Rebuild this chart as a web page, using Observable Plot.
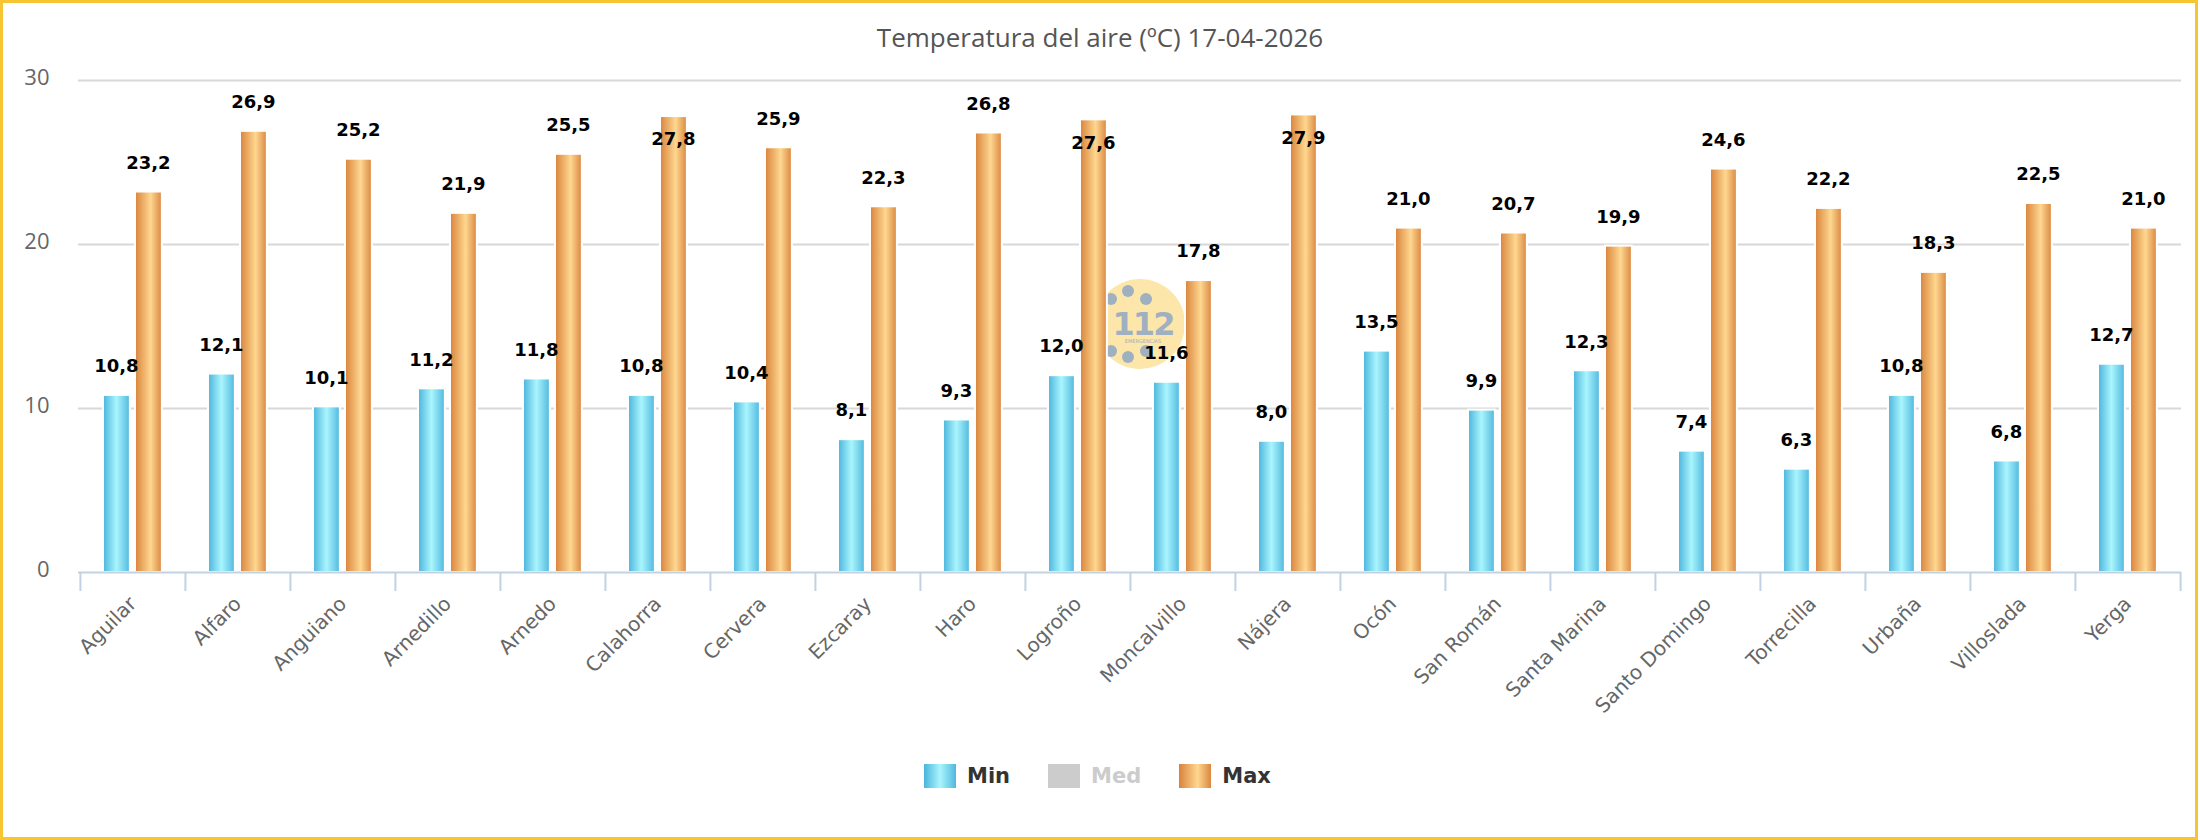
<!DOCTYPE html>
<html>
<head>
<meta charset="utf-8">
<script src="https://cdn.jsdelivr.net/npm/d3@7"></script>
<script src="https://cdn.jsdelivr.net/npm/@observablehq/plot@0.6"></script>
<style>
  html, body { margin: 0; padding: 0; background: #fff; }
  #page { position: relative; width: 2200px; height: 840px; overflow: hidden; background: #fff; }
  #frame { position: absolute; left: 0; top: 0; width: 2198px; height: 840px; box-sizing: border-box;
           border: 3px solid #f7c531; z-index: 5; pointer-events: none; }
  #title { position: absolute; left: 0; top: 24px; width: 2200px; text-align: center;
           font-family: "Open Sans", sans-serif; font-size: 26px; line-height: 26px; color: #555; z-index: 2; }
  #mark { position: absolute; left: 1090px; top: 274px; width: 100px; height: 100px; z-index: 0; }
  #chart { position: absolute; left: 0; top: 0; z-index: 1; }
  #legend { position: absolute; left: 924px; top: 764px; display: flex; align-items: center; z-index: 2;
            font-family: "DejaVu Sans", sans-serif; font-weight: bold; font-size: 21px; color: #333; }
  .item { display: flex; align-items: center; margin-right: 38px; }
  .sw { width: 32px; height: 24px; margin-right: 11px; }
</style>
</head>
<body>
<div id="page">
  <div id="title"></div>
  <img id="mark" alt="">
  <div id="chart"></div>
  <div id="legend"></div>
  <div id="frame"></div>
</div>
<script>
// ---- data ----
const chartTitle = "Temperatura del aire (ºC) 17-04-2026";
const stations = ["Aguilar","Alfaro","Anguiano","Arnedillo","Arnedo","Calahorra","Cervera","Ezcaray","Haro","Logroño","Moncalvillo","Nájera","Ocón","San Román","Santa Marina","Santo Domingo","Torrecilla","Urbaña","Villoslada","Yerga"];
const minValues = [10.8,12.1,10.1,11.2,11.8,10.8,10.4,8.1,9.3,12.0,11.6,8.0,13.5,9.9,12.3,7.4,6.3,10.8,6.8,12.7];
const maxValues = [23.2,26.9,25.2,21.9,25.5,27.8,25.9,22.3,26.8,27.6,17.8,27.9,21.0,20.7,19.9,24.6,22.2,18.3,22.5,21.0];
const seriesNames = ["Min","Med","Max"];
const hiddenSeries = ["Med"];
const yTicks = [0,10,20,30];
const yDomain = [0,30];

// ---- styles ----
const W = 2200, H = 720;
const mL = 78, mR = 19, mT = 80, mB = 148;
const plotH = H - mT - mB;
const bw = (W - mL - mR) / stations.length;
const minStops = [["0%","#4ab4dc"],["50%","#a9f5fd"],["100%","#50b8de"]];
const maxStops = [["0%","#d9823a"],["58%","#fed790"],["100%","#db863f"]];
const medColor = "#cccccc";

document.getElementById("title").textContent = chartTitle;

const rows = stations.map((s, i) => ({station: s, min: minValues[i], max: maxValues[i]}));
const fmt = v => v.toFixed(1).replace(".", ",");
// label fits above the bar if it stays inside the plot area
const fits = v => (yDomain[1] - v) / (yDomain[1] - yDomain[0]) * plotH >= 41;

function gradientDefs() {
  const ns = "http://www.w3.org/2000/svg";
  const defs = document.createElementNS(ns, "defs");
  for (const [id, stops] of [["gMin", minStops], ["gMax", maxStops]]) {
    const g = document.createElementNS(ns, "linearGradient");
    g.setAttribute("id", id);
    g.setAttribute("x1", "0"); g.setAttribute("x2", "1");
    g.setAttribute("y1", "0"); g.setAttribute("y2", "0");
    for (const [off, col] of stops) {
      const s = document.createElementNS(ns, "stop");
      s.setAttribute("offset", off);
      s.setAttribute("stop-color", col);
      g.appendChild(s);
    }
    defs.appendChild(g);
  }
  return defs;
}

const labelFont = {fontFamily: "DejaVu Sans", fontWeight: "bold", fontSize: 18, fill: "#000"};
const axisColor = "#c3d2e2";

const chart = Plot.plot({
  width: W, height: H,
  marginLeft: mL, marginRight: mR, marginTop: mT, marginBottom: mB,
  style: {background: "transparent", fontFamily: "DejaVu Sans", overflow: "visible"},
  x: {type: "band", domain: stations, padding: 0, axis: null, label: null},
  y: {domain: yDomain, axis: null, label: null},
  marks: [
    gradientDefs,
    Plot.ruleY(yTicks.filter(t => t > 0), {stroke: "#d8d8d8", strokeWidth: 2}),
    Plot.barY(rows, {x: "station", y: "min", fill: "url(#gMin)", stroke: "#fff", strokeWidth: 2,
      insetLeft: 23, insetRight: bw - 50}),
    Plot.barY(rows, {x: "station", y: "max", fill: "url(#gMax)", stroke: "#fff", strokeWidth: 2,
      insetLeft: 55, insetRight: bw - 82}),
    Plot.ruleY([0], {stroke: axisColor, strokeWidth: 2}),
    Plot.axisX({ticks: stations, tickSize: 19, tickFormat: () => "", dx: -bw / 2, label: null,
      stroke: axisColor, strokeWidth: 2}),
    Plot.axisX({ticks: stations.slice(-1), tickSize: 19, tickFormat: () => "", dx: bw / 2, label: null,
      stroke: axisColor, strokeWidth: 2}),
    Plot.axisX({tickSize: 0, tickPadding: 28, tickRotate: -45, fontSize: 20, label: null,
      fontFamily: "DejaVu Sans", fill: "#666"}),
    Plot.axisY({ticks: yTicks, tickSize: 0, tickPadding: 29, fontSize: 22, dy: -3, label: null,
      fontFamily: "Open Sans", fill: "#666"}),
    Plot.text(rows, {x: "station", y: "min", text: d => fmt(d.min), dx: 36 - bw / 2, dy: -29, ...labelFont}),
    Plot.text(rows.filter(d => fits(d.max)), {x: "station", y: "max", text: d => fmt(d.max),
      dx: 68 - bw / 2, dy: -29, ...labelFont}),
    Plot.text(rows.filter(d => !fits(d.max)), {x: "station", y: "max", text: d => fmt(d.max),
      dx: 68 - bw / 2, dy: 23, ...labelFont})
  ]
});
document.getElementById("chart").appendChild(chart);

// ---- legend ----
const legend = document.getElementById("legend");
const swatchBg = {
  Min: `linear-gradient(to right, ${minStops.map(s => s[1] + " " + s[0]).join(", ")})`,
  Max: `linear-gradient(to right, ${maxStops.map(s => s[1] + " " + s[0]).join(", ")})`,
  Med: medColor
};
for (const name of seriesNames) {
  const hidden = hiddenSeries.includes(name);
  const it = document.createElement("div");
  it.className = "item";
  const sw = document.createElement("div");
  sw.className = "sw";
  sw.style.background = hidden ? medColor : swatchBg[name];
  const tx = document.createElement("span");
  tx.textContent = name;
  if (hidden) tx.style.color = medColor;
  it.appendChild(sw); it.appendChild(tx);
  legend.appendChild(it);
}

// ---- watermark logo (an image in the original, decoration only) ----
(function () {
  const dots = [[-29,-25],[-12,-33],[6,-25],[-29,27],[-12,33],[6,27]]
    .map(d => `<circle cx="${50 + d[0]}" cy="${50 + d[1]}" r="6" fill="#9fb0c1"/>`).join("");
  const logo = `<svg xmlns="http://www.w3.org/2000/svg" width="100" height="100" viewBox="0 0 100 100">` +
    `<circle cx="50" cy="50" r="45" fill="#fce3a1" fill-opacity="0.9"/>` + dots +
    `<text x="53" y="61" text-anchor="middle" font-family="DejaVu Sans" font-weight="bold" font-size="32" letter-spacing="-2" fill="#9fb0c1">112</text>` +
    `<text x="53" y="69" text-anchor="middle" font-family="DejaVu Sans" font-size="5" fill="#9fb0c1">EMERGENCIAS</text>` +
    `</svg>`;
  document.getElementById("mark").src = "data:image/svg+xml;charset=utf-8," + encodeURIComponent(logo);
})();
</script>
</body>
</html>
